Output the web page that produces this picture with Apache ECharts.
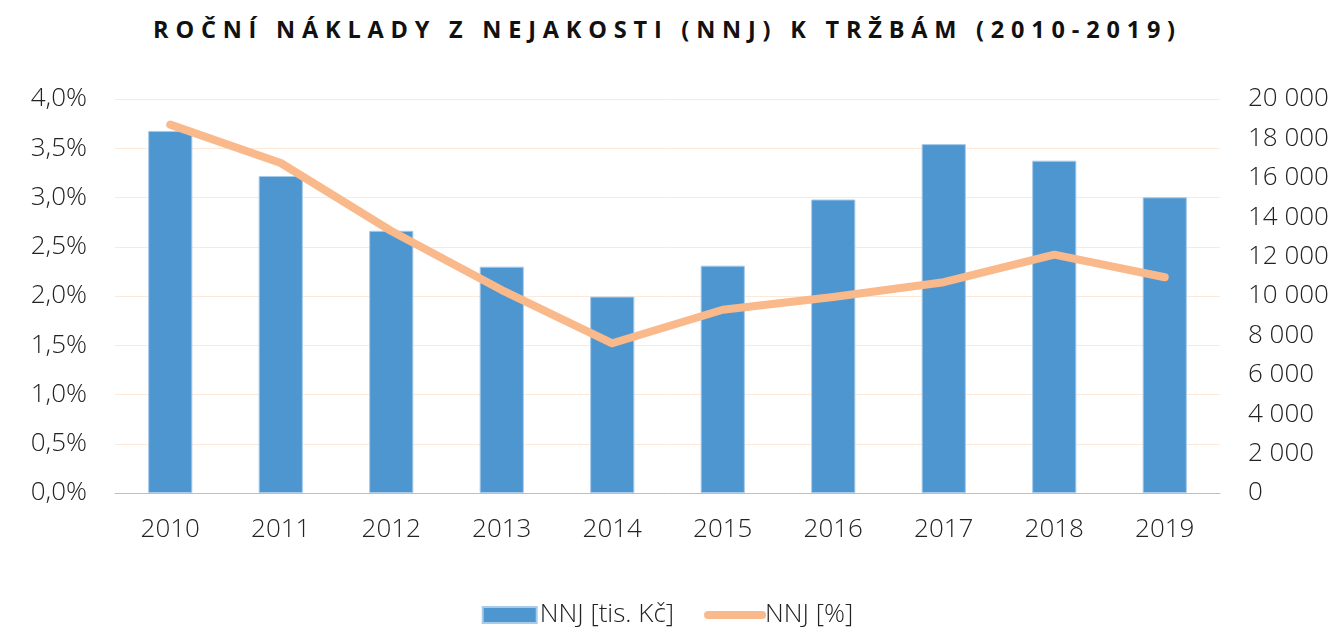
<!DOCTYPE html>
<html>
<head>
<meta charset="utf-8">
<script src="https://cdn.jsdelivr.net/npm/echarts@6/dist/echarts.min.js"></script>
<style>
  html, body { margin: 0; padding: 0; background: #fff; }
  #title {
    position: absolute; left: 0; top: 13px; width: 1335px; text-align: center;
    font-family: "Open Sans", sans-serif; font-weight: 700; font-size: 23.5px;
    letter-spacing: 6.8px; color: #111;
  }
  #chart { width: 1335px; height: 627px; }
</style>
</head>
<body>
<div id="title">ROČNÍ NÁKLADY Z NEJAKOSTI (NNJ) K TRŽBÁM (2010-2019)</div>
<div id="chart"></div>
<script>
const years = ["2010", "2011", "2012", "2013", "2014", "2015", "2016", "2017", "2018", "2019"];
const nnjKc = [18380, 16090, 13310, 11490, 9970, 11540, 14900, 17710, 16870, 15010];
const nnjPct = [3.74, 3.35, 2.66, 2.06, 1.52, 1.86, 1.99, 2.14, 2.42, 2.19];

const font = "Open Sans";
const labelColor = "#222";
var myChart = echarts.init(document.getElementById("chart"));
var option = {
  textStyle: { fontFamily: font },
  grid: {
    left: 115,
    right: 115,
    top: 99,
    bottom: 134,
  },
  legend: {
    top: 597,
    left: "center",
    itemGap: 30,
    itemWidth: 54,
    itemHeight: 16,
    textStyle: { fontSize: 26, fontWeight: 300, color: labelColor, fontFamily: font, padding: [0, 0, 0, -2] },
    data: [
      { name: "NNJ [tis. Kč]", icon: "rect" },
      { name: "NNJ [%]", itemStyle: { opacity: 0 }, lineStyle: { width: 8, cap: "round" } },
    ],
  },
  xAxis: {
    type: "category",
    data: years,
    axisLine: { lineStyle: { color: "#bfbfbf", width: 1 } },
    axisTick: { show: false },
    axisLabel: { fontSize: 26, fontWeight: 300, color: labelColor, margin: 24 },
  },
  yAxis: [
    {
      type: "value",
      min: 0,
      max: 4,
      interval: 0.5,
      axisLine: { show: false },
      axisTick: { show: false },
      splitLine: { lineStyle: { color: "#fde9d9", width: 1 } },
      axisLabel: {
        fontSize: 26,
        fontWeight: 300,
        color: labelColor,
        margin: 28,
        formatter: (v) => v.toFixed(1).replace(".", ",") + "%",
      },
    },
    {
      type: "value",
      min: 0,
      max: 20000,
      interval: 2000,
      axisLine: { show: false },
      axisTick: { show: false },
      splitLine: { show: false },
      axisLabel: {
        fontSize: 26,
        fontWeight: 300,
        color: labelColor,
        margin: 28,
        formatter: (v) => String(v).replace(/\B(?=(\d{3})+(?!\d))/g, " "),
      },
    },
  ],
  series: [
    {
      name: "NNJ [tis. Kč]",
      type: "bar",
      yAxisIndex: 1,
      data: nnjKc,
      barWidth: "40%",
      itemStyle: { color: "#4e96d0", borderColor: "#a9cbea", borderWidth: 1 },
    },
    {
      name: "NNJ [%]",
      type: "line",
      yAxisIndex: 0,
      data: nnjPct,
      symbol: "none",
      lineStyle: { color: "#f9b98a", width: 8, cap: "round", join: "round" },
      itemStyle: { color: "#f9b98a" },
    },
  ],
};
myChart.setOption(option);
</script>
</body>
</html>
